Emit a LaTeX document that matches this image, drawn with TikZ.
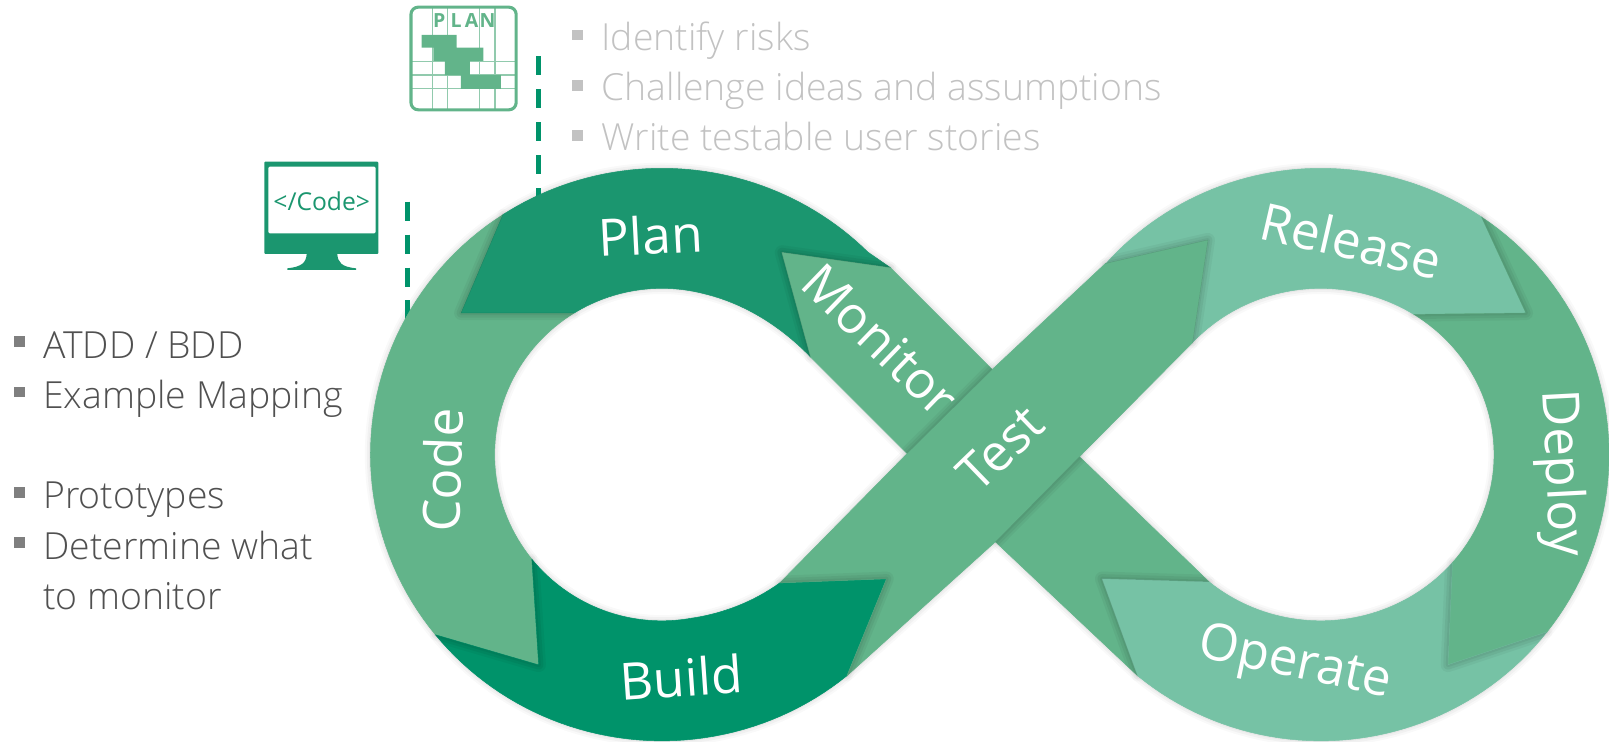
\documentclass[tikz,border=0pt]{standalone}
\usepackage{fontspec}
\setmainfont{Open Sans Light}
\newfontfamily\regf{Open Sans}
\definecolor{cPlan}{HTML}{1B966F}
\definecolor{cBuild}{HTML}{00936A}
\definecolor{cMid}{HTML}{62B48A}
\definecolor{cLight}{HTML}{76C2A5}
\definecolor{cGreyTxt}{HTML}{505050}
\definecolor{cPale}{HTML}{C2C2C2}
\definecolor{cBul}{HTML}{7F7F7F}
\newcommand\ArcP[6]{plot[domain=#5:#6,samples=48,variable=\noexpand\t]({#1+#3*cos(\noexpand\t)},{#2+#4*sin(\noexpand\t)})}
\newcommand\Lo[2]{\ArcP{645}{443}{284}{279}{#1}{#2}}
\newcommand\Li[2]{\ArcP{645}{443}{163}{162}{#1}{#2}}
\newcommand\Ro[2]{\ArcP{1287}{443}{281}{279}{#1}{#2}}
\newcommand\Ri[2]{\ArcP{1287}{443}{169}{162}{#1}{#2}}
\edef\pPlan{(490.3,209) -- \Lo{-123}{-45} -- (868,261) -- (762,246) -- (790,348) .. controls (765,322) and (730,297) .. (687.2,286.5) -- \Li{-75}{-121.5} -- (449.5,305) -- cycle}
\edef\pCode{(490.3,209) -- \Lo{-123}{-219} -- (525,648) -- (518.3,544.9) -- \Li{141}{238.5} -- (449.5,305) -- cycle}
\edef\pBuild{(424.3,618.6) -- \Lo{141}{50.6} -- (864,564) -- (760,568) .. controls (735,586) and (705,598) .. (673.3,602.5) -- \Li{80}{141} -- (525,648) -- cycle}
\edef\pMonitor{(762,246) -- (868,261) -- (967,360) -- (884,442) -- (790,348) -- cycle}
\edef\pTest{(825.4,658.6) -- (864,564) -- (760,568) -- (884,442) -- (967,360) -- (1077,257) -- (1177,234) -- (1162,334) -- (1052,445) -- (970,528) -- cycle}
\edef\pRelease{(1077,257) -- \Ro{-138.2}{-56.1} -- (1487,305) -- \Ri{-57.5}{-137.7} -- (1177,234) -- cycle}
\edef\pDeploy{(1443.7,211.4) -- \Ro{-56.1}{38.3} -- (1411,648) -- \Ri{40.6}{-57.5} -- (1487,305) -- cycle}
\edef\pOperate{(1108.6,658.6) -- \Ro{129.4}{38.3} -- (1411,648) -- \Ri{40.6}{130} -- (1074,564) -- cycle}
\edef\pLower{(1052,445) -- (1178.4,567.1) -- (1074,564) -- (1108.6,658.6) -- (970,528) -- cycle}
\newcommand\OuterS[1]{%
  \draw[black!45,opacity=.05,line width=11pt,line join=round] #1;
  \draw[black!45,opacity=.07,line width=7pt,line join=round] #1;
  \draw[black!45,opacity=.09,line width=3pt,line join=round] #1;}
\newcommand\EdgeS[2]{%
  \begin{scope}
  \clip #1;
  \draw[black,opacity=.04,line width=14pt,line join=round] #2;
  \draw[black,opacity=.05,line width=9pt,line join=round] #2;
  \draw[black,opacity=.05,line width=4pt,line join=round] #2;
  \end{scope}}
\tikzset{
  seg/.style={fill=#1,draw=#1,line width=.5pt,line join=round},
  lab/.style={text=white,font=\regf\fontsize{50}{60}\selectfont,inner sep=0pt},
  pale/.style={text=cPale,anchor=base west,font=\fontsize{36.4}{44}\selectfont,inner sep=0pt},
  dark/.style={text=cGreyTxt,anchor=base west,font=\fontsize{36.4}{44}\selectfont,inner sep=0pt},
  bul/.style={fill=#1,minimum size=10.5pt,inner sep=0pt,outer sep=0pt,rectangle},
  dashline/.style={cBuild,line width=4.9pt,dash pattern=on 18.5pt off 13.6pt},
  planline/.style={cMid!70,line width=1.2pt},
  planbar/.style={fill=cMid},
  plantxt/.style={text=cMid,font=\regf\bfseries\fontsize{19}{22}\selectfont,inner sep=0pt}
}
\begin{document}
\begin{tikzpicture}[x=1pt,y=-1pt]
\useasboundingbox (0,0) rectangle (1568,723);
% outer soft shadow
\OuterS{\pPlan}\OuterS{\pCode}\OuterS{\pBuild}\OuterS{\pMonitor}\OuterS{\pTest}\OuterS{\pRelease}\OuterS{\pDeploy}\OuterS{\pOperate}\OuterS{\pLower}
% dashed connectors (behind the ring)
\coordinate (planTop) at (525,55);
\coordinate (planEnd) at (525,198);
\coordinate (codeTop) at (397,196.5);
\coordinate (codeEnd) at (397,311);
\draw[dashline] (planTop) -- (planEnd);
\draw[dashline] (codeTop) -- (codeEnd);
% ring
\path[seg=cMid] \pCode;
\path[seg=cPlan] \pPlan;
\path[seg=cBuild] \pBuild;
\path[seg=cMid] \pMonitor;
\path[seg=cMid] \pLower;
\path[seg=cLight] \pRelease;
\path[seg=cMid] \pDeploy;
\path[seg=cLight] \pOperate;
\path[seg=cMid] \pTest;
% edge shadows
\EdgeS{\pCode}{(490.3,209) -- (449.5,305) -- (560,305)}
\EdgeS{\pPlan}{(868,261) -- (762,246) -- (790,348)}
\EdgeS{\pMonitor}{(884,442) -- (967,360)}
\EdgeS{\pLower}{(1052,445) -- (970,528)}
\EdgeS{\pRelease}{(1077,257) -- (1177,234) -- (1162,334)}
\EdgeS{\pTest}{(760,568) -- (864,564) -- (825.4,658.6)}
\EdgeS{\pBuild}{(518.3,544.9) -- (525,648) -- (424.3,618.6)}
\EdgeS{\pDeploy}{(1443.7,211.4) -- (1487,305) -- (1377.8,306.4)}
\EdgeS{\pOperate}{(1415.3,548.4) -- (1411,648) -- (1507.5,615.9)}
\EdgeS{\pLower}{(1178.4,567.1) -- (1074,564) -- (1108.6,658.6)}
% ring labels
\node[lab,rotate=3] (lPlan) at (634,229) {Plan};
\node[lab,rotate=-44] (lMonitor) at (858,331) {Monitor};
\node[lab,rotate=44] (lTest) at (975,437) {Test};
\node[lab,rotate=88] (lCode) at (431,458) {Code};
\node[lab,rotate=4] (lBuild) at (664,660) {Build};
\node[lab,rotate=-13] (lRelease) at (1317,234) {Release};
\node[lab,rotate=-87] (lDeploy) at (1520,461) {Deploy};
\node[lab,rotate=-12] (lOperate) at (1262,648) {Operate};
% top list
\node[bul=cPale] (b1) at (563,34) {};
\node[bul=cPale] (b2) at (563,83) {};
\node[bul=cPale] (b3) at (563,132) {};
\node[pale] (t1) at (586,49) {Identify risks};
\node[pale] (t2) at (586,98) {Challenge ideas and assumptions};
\node[pale] (t3) at (586,147) {Write testable user stories};
% left list
\node[bul=cBul] (b4) at (19,333) {};
\node[bul=cBul] (b5) at (19,382) {};
\node[bul=cBul] (b6) at (19,480) {};
\node[bul=cBul] (b7) at (19,529) {};
\node[dark] (t4) at (42,349) {ATDD / BDD};
\node[dark] (t5) at (42,398) {Example Mapping};
\node[dark] (t6) at (42,496) {Prototypes};
\node[dark] (t7) at (42,545) {Determine what};
\node[dark] (t8) at (42,594) {to monitor};
% PLAN icon
\foreach \gx in {421.3,436,467,482.4} \draw[planline] (\gx,7) -- (\gx,107);
\foreach \gy in {60,73,86} \draw[planline] (400.5,\gy) -- (503,\gy);
\fill[planbar] (410.9,34.1) -- (445,34.1) -- (445,46.4) -- (471,46.4) -- (471,59.4) -- (458,59.4) -- (458,73.1) -- (488.2,73.1) -- (488.2,86.7) -- (449.2,86.7) -- (449.2,73.1) -- (433.6,73.1) -- (433.6,59.4) -- (422.3,59.4) -- (422.3,46.4) -- (410.9,46.4) -- cycle;
\draw[cMid,line width=3pt,rounded corners=7pt] (400.5,7) rectangle (503,107);
\node[plantxt] (pP) at (428,20) {P};
\node[plantxt] (pL) at (444.4,20) {L};
\node[plantxt] (pA) at (459.6,20) {A};
\node[plantxt] (pN) at (475,20) {N};
% Code icon
\fill[cPlan,even odd rule,rounded corners=1pt] (257.6,157.5) rectangle (368.7,247.5) (261.5,162.4) rectangle (366,227.4);
\fill[cPlan] (298.9,247) -- (328.7,247) .. controls (329,256) and (333,260) .. (347,261.5) -- (347,263) -- (280,263) -- (280,261.5) .. controls (294,260) and (298.5,256) .. (298.9,247) -- cycle;
\node[text=cPlan,font=\regf\fontsize{24}{28}\selectfont,inner sep=0pt] (codeT) at (313.5,196) {</Code>};
\end{tikzpicture}
\end{document}
